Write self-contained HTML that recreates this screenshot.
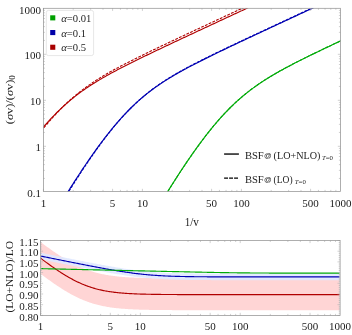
<!DOCTYPE html>
<html><head><meta charset="utf-8"><title>BSF plot</title>
<style>html,body{margin:0;padding:0;background:#fff}svg{display:block;opacity:0.999;will-change:transform}</style></head>
<body>
<svg width="352" height="335" viewBox="0 0 352 335" font-family="'Liberation Serif', 'DejaVu Serif', serif" font-size="11" fill="#1c1c1c">
<rect width="100%" height="100%" fill="#fff"/>
<defs><clipPath id="ct"><rect x="43.4" y="8.3" width="297.0" height="183.1"/></clipPath><clipPath id="cb"><rect x="40.5" y="240.5" width="299.6" height="74.89999999999998"/></clipPath></defs>
<g clip-path="url(#ct)" fill="none" stroke-linejoin="round">
<path d="M159.40,205.19 L160.40,203.54 L161.40,201.90 L162.40,200.26 L163.40,198.63 L164.40,197.00 L165.40,195.38 L166.40,193.76 L167.40,192.15 L168.40,190.55 L169.40,188.95 L170.40,187.35 L171.40,185.76 L172.40,184.18 L173.40,182.60 L174.40,181.03 L175.40,179.47 L176.40,177.91 L177.40,176.36 L178.40,174.82 L179.40,173.28 L180.40,171.76 L181.40,170.23 L182.40,168.72 L183.40,167.21 L184.40,165.71 L185.40,164.22 L186.40,162.73 L187.40,161.26 L188.40,159.79 L189.40,158.33 L190.40,156.88 L191.40,155.44 L192.40,154.01 L193.40,152.58 L194.40,151.17 L195.40,149.76 L196.40,148.36 L197.40,146.98 L198.40,145.60 L199.40,144.23 L200.40,142.88 L201.40,141.53 L202.40,140.19 L203.40,138.87 L204.40,137.55 L205.40,136.25 L206.40,134.95 L207.40,133.67 L208.40,132.40 L209.40,131.14 L210.40,129.89 L211.40,128.65 L212.40,127.43 L213.40,126.22 L214.40,125.02 L215.40,123.83 L216.40,122.65 L217.40,121.49 L218.40,120.33 L219.40,119.19 L220.40,118.07 L221.40,116.95 L222.40,115.85 L223.40,114.76 L224.40,113.69 L225.40,112.62 L226.40,111.57 L227.40,110.53 L228.40,109.51 L229.40,108.50 L230.40,107.50 L231.40,106.51 L232.40,105.53 L233.40,104.57 L234.40,103.62 L235.40,102.69 L236.40,101.76 L237.40,100.85 L238.40,99.95 L239.40,99.06 L240.40,98.19 L241.40,97.32 L242.40,96.47 L243.40,95.63 L244.40,94.80 L245.40,93.98 L246.40,93.18 L247.40,92.38 L248.40,91.59 L249.40,90.82 L250.40,90.05 L251.40,89.30 L252.40,88.55 L253.40,87.82 L254.40,87.09 L255.40,86.37 L256.40,85.66 L257.40,84.96 L258.40,84.27 L259.40,83.59 L260.40,82.92 L261.40,82.25 L262.40,81.59 L263.40,80.94 L264.40,80.29 L265.40,79.65 L266.40,79.02 L267.40,78.40 L268.40,77.78 L269.40,77.16 L270.40,76.56 L271.40,75.95 L272.40,75.36 L273.40,74.77 L274.40,74.18 L275.40,73.60 L276.40,73.03 L277.40,72.45 L278.40,71.89 L279.40,71.32 L280.40,70.77 L281.40,70.21 L282.40,69.66 L283.40,69.11 L284.40,68.57 L285.40,68.03 L286.40,67.49 L287.40,66.96 L288.40,66.42 L289.40,65.90 L290.40,65.37 L291.40,64.85 L292.40,64.33 L293.40,63.81 L294.40,63.29 L295.40,62.78 L296.40,62.27 L297.40,61.76 L298.40,61.25 L299.40,60.74 L300.40,60.24 L301.40,59.74 L302.40,59.24 L303.40,58.74 L304.40,58.24 L305.40,57.75 L306.40,57.25 L307.40,56.76 L308.40,56.27 L309.40,55.78 L310.40,55.29 L311.40,54.80 L312.40,54.31 L313.40,53.82 L314.40,53.34 L315.40,52.85 L316.40,52.37 L317.40,51.89 L318.40,51.40 L319.40,50.92 L320.40,50.44 L321.40,49.96 L322.40,49.48 L323.40,49.01 L324.40,48.53 L325.40,48.05 L326.40,47.57 L327.40,47.10 L328.40,46.62 L329.40,46.15 L330.40,45.67 L331.40,45.20 L332.40,44.72 L333.40,44.25 L334.40,43.78 L335.40,43.31 L336.40,42.83 L337.40,42.36 L338.40,41.89 L339.40,41.42 L340.40,40.95 L341.40,40.48 L342.40,40.01" stroke="#00aa08" stroke-width="1.1" stroke-dasharray="2.8 1.3"/>
<path d="M60.40,205.19 L61.40,203.54 L62.40,201.90 L63.40,200.26 L64.40,198.63 L65.40,197.00 L66.40,195.38 L67.40,193.76 L68.40,192.15 L69.40,190.55 L70.40,188.95 L71.40,187.35 L72.40,185.76 L73.40,184.18 L74.40,182.60 L75.40,181.03 L76.40,179.47 L77.40,177.91 L78.40,176.36 L79.40,174.82 L80.40,173.28 L81.40,171.76 L82.40,170.23 L83.40,168.72 L84.40,167.21 L85.40,165.71 L86.40,164.22 L87.40,162.73 L88.40,161.26 L89.40,159.79 L90.40,158.33 L91.40,156.88 L92.40,155.44 L93.40,154.01 L94.40,152.58 L95.40,151.17 L96.40,149.76 L97.40,148.36 L98.40,146.98 L99.40,145.60 L100.40,144.23 L101.40,142.88 L102.40,141.53 L103.40,140.19 L104.40,138.87 L105.40,137.55 L106.40,136.25 L107.40,134.95 L108.40,133.67 L109.40,132.40 L110.40,131.14 L111.40,129.89 L112.40,128.65 L113.40,127.43 L114.40,126.22 L115.40,125.02 L116.40,123.83 L117.40,122.65 L118.40,121.49 L119.40,120.33 L120.40,119.19 L121.40,118.07 L122.40,116.95 L123.40,115.85 L124.40,114.76 L125.40,113.69 L126.40,112.62 L127.40,111.57 L128.40,110.53 L129.40,109.51 L130.40,108.50 L131.40,107.50 L132.40,106.51 L133.40,105.53 L134.40,104.57 L135.40,103.62 L136.40,102.69 L137.40,101.76 L138.40,100.85 L139.40,99.95 L140.40,99.06 L141.40,98.19 L142.40,97.32 L143.40,96.47 L144.40,95.63 L145.40,94.80 L146.40,93.98 L147.40,93.18 L148.40,92.38 L149.40,91.59 L150.40,90.82 L151.40,90.05 L152.40,89.30 L153.40,88.55 L154.40,87.82 L155.40,87.09 L156.40,86.37 L157.40,85.66 L158.40,84.96 L159.40,84.27 L160.40,83.59 L161.40,82.92 L162.40,82.25 L163.40,81.59 L164.40,80.94 L165.40,80.29 L166.40,79.65 L167.40,79.02 L168.40,78.40 L169.40,77.78 L170.40,77.16 L171.40,76.56 L172.40,75.95 L173.40,75.36 L174.40,74.77 L175.40,74.18 L176.40,73.60 L177.40,73.03 L178.40,72.45 L179.40,71.89 L180.40,71.32 L181.40,70.77 L182.40,70.21 L183.40,69.66 L184.40,69.11 L185.40,68.57 L186.40,68.03 L187.40,67.49 L188.40,66.96 L189.40,66.42 L190.40,65.90 L191.40,65.37 L192.40,64.85 L193.40,64.33 L194.40,63.81 L195.40,63.29 L196.40,62.78 L197.40,62.27 L198.40,61.76 L199.40,61.25 L200.40,60.74 L201.40,60.24 L202.40,59.74 L203.40,59.24 L204.40,58.74 L205.40,58.24 L206.40,57.75 L207.40,57.25 L208.40,56.76 L209.40,56.27 L210.40,55.78 L211.40,55.29 L212.40,54.80 L213.40,54.31 L214.40,53.82 L215.40,53.34 L216.40,52.85 L217.40,52.37 L218.40,51.89 L219.40,51.40 L220.40,50.92 L221.40,50.44 L222.40,49.96 L223.40,49.48 L224.40,49.01 L225.40,48.53 L226.40,48.05 L227.40,47.57 L228.40,47.10 L229.40,46.62 L230.40,46.15 L231.40,45.67 L232.40,45.20 L233.40,44.72 L234.40,44.25 L235.40,43.78 L236.40,43.31 L237.40,42.83 L238.40,42.36 L239.40,41.89 L240.40,41.42 L241.40,40.95 L242.40,40.48 L243.40,40.01 L244.40,39.54 L245.40,39.07 L246.40,38.60 L247.40,38.13 L248.40,37.66 L249.40,37.19 L250.40,36.72 L251.40,36.25 L252.40,35.78 L253.40,35.32 L254.40,34.85 L255.40,34.38 L256.40,33.91 L257.40,33.44 L258.40,32.98 L259.40,32.51 L260.40,32.04 L261.40,31.57 L262.40,31.11 L263.40,30.64 L264.40,30.17 L265.40,29.71 L266.40,29.24 L267.40,28.77 L268.40,28.31 L269.40,27.84 L270.40,27.37 L271.40,26.91 L272.40,26.44 L273.40,25.98 L274.40,25.51 L275.40,25.04 L276.40,24.58 L277.40,24.11 L278.40,23.65 L279.40,23.18 L280.40,22.72 L281.40,22.25 L282.40,21.78 L283.40,21.32 L284.40,20.85 L285.40,20.39 L286.40,19.92 L287.40,19.46 L288.40,18.99 L289.40,18.53 L290.40,18.06 L291.40,17.60 L292.40,17.13 L293.40,16.67 L294.40,16.20 L295.40,15.73 L296.40,15.27 L297.40,14.80 L298.40,14.34 L299.40,13.87 L300.40,13.41 L301.40,12.94 L302.40,12.48 L303.40,12.01 L304.40,11.55 L305.40,11.08 L306.40,10.62 L307.40,10.15 L308.40,9.69 L309.40,9.22 L310.40,8.76 L311.40,8.29 L312.40,7.83 L313.40,7.37 L314.40,6.90 L315.40,6.44 L316.40,5.97 L317.40,5.51 L318.40,5.04 L319.40,4.58 L320.40,4.11 L321.40,3.65 L322.40,3.18 L323.40,2.72 L324.40,2.25 L325.40,1.79 L326.40,1.32 L327.40,0.86 L328.40,0.39 L329.40,-0.07 L330.40,-0.54 L331.40,-1.00 L332.40,-1.47 L333.40,-1.93 L334.40,-2.40 L335.40,-2.86 L336.40,-3.32 L337.40,-3.79 L338.40,-4.25 L339.40,-4.72 L340.40,-5.18 L341.40,-5.65 L342.40,-6.11" stroke="#0000b2" stroke-width="1.1" stroke-dasharray="2.8 1.3"/>
<path d="M41.40,130.89 L42.40,129.65 L43.40,128.41 L44.40,127.19 L45.40,125.98 L46.40,124.78 L47.40,123.59 L48.40,122.42 L49.40,121.26 L50.40,120.11 L51.40,118.97 L52.40,117.85 L53.40,116.73 L54.40,115.63 L55.40,114.55 L56.40,113.47 L57.40,112.41 L58.40,111.36 L59.40,110.33 L60.40,109.31 L61.40,108.30 L62.40,107.30 L63.40,106.31 L64.40,105.34 L65.40,104.38 L66.40,103.44 L67.40,102.50 L68.40,101.58 L69.40,100.67 L70.40,99.77 L71.40,98.89 L72.40,98.02 L73.40,97.15 L74.40,96.30 L75.40,95.47 L76.40,94.64 L77.40,93.82 L78.40,93.02 L79.40,92.22 L80.40,91.44 L81.40,90.67 L82.40,89.90 L83.40,89.15 L84.40,88.41 L85.40,87.67 L86.40,86.95 L87.40,86.23 L88.40,85.53 L89.40,84.83 L90.40,84.14 L91.40,83.46 L92.40,82.78 L93.40,82.12 L94.40,81.46 L95.40,80.81 L96.40,80.16 L97.40,79.53 L98.40,78.90 L99.40,78.27 L100.40,77.65 L101.40,77.04 L102.40,76.44 L103.40,75.84 L104.40,75.24 L105.40,74.65 L106.40,74.07 L107.40,73.49 L108.40,72.91 L109.40,72.34 L110.40,71.78 L111.40,71.21 L112.40,70.66 L113.40,70.10 L114.40,69.55 L115.40,69.00 L116.40,68.46 L117.40,67.92 L118.40,67.38 L119.40,66.85 L120.40,66.32 L121.40,65.79 L122.40,65.27 L123.40,64.74 L124.40,64.22 L125.40,63.71 L126.40,63.19 L127.40,62.68 L128.40,62.17 L129.40,61.66 L130.40,61.15 L131.40,60.64 L132.40,60.14 L133.40,59.64 L134.40,59.14 L135.40,58.64 L136.40,58.14 L137.40,57.65 L138.40,57.15 L139.40,56.66 L140.40,56.17 L141.40,55.68 L142.40,55.19 L143.40,54.70 L144.40,54.21 L145.40,53.73 L146.40,53.24 L147.40,52.76 L148.40,52.27 L149.40,51.79 L150.40,51.31 L151.40,50.83 L152.40,50.35 L153.40,49.87 L154.40,49.39 L155.40,48.91 L156.40,48.43 L157.40,47.96 L158.40,47.48 L159.40,47.00 L160.40,46.53 L161.40,46.05 L162.40,45.58 L163.40,45.10 L164.40,44.63 L165.40,44.16 L166.40,43.68 L167.40,43.21 L168.40,42.74 L169.40,42.27 L170.40,41.80 L171.40,41.33 L172.40,40.85 L173.40,40.38 L174.40,39.91 L175.40,39.44 L176.40,38.97 L177.40,38.50 L178.40,38.03 L179.40,37.57 L180.40,37.10 L181.40,36.63 L182.40,36.16 L183.40,35.69 L184.40,35.22 L185.40,34.75 L186.40,34.29 L187.40,33.82 L188.40,33.35 L189.40,32.88 L190.40,32.42 L191.40,31.95 L192.40,31.48 L193.40,31.02 L194.40,30.55 L195.40,30.08 L196.40,29.61 L197.40,29.15 L198.40,28.68 L199.40,28.22 L200.40,27.75 L201.40,27.28 L202.40,26.82 L203.40,26.35 L204.40,25.88 L205.40,25.42 L206.40,24.95 L207.40,24.49 L208.40,24.02 L209.40,23.55 L210.40,23.09 L211.40,22.62 L212.40,22.16 L213.40,21.69 L214.40,21.23 L215.40,20.76 L216.40,20.30 L217.40,19.83 L218.40,19.36 L219.40,18.90 L220.40,18.43 L221.40,17.97 L222.40,17.50 L223.40,17.04 L224.40,16.57 L225.40,16.11 L226.40,15.64 L227.40,15.18 L228.40,14.71 L229.40,14.25 L230.40,13.78 L231.40,13.32 L232.40,12.85 L233.40,12.39 L234.40,11.92 L235.40,11.46 L236.40,10.99 L237.40,10.53 L238.40,10.06 L239.40,9.60 L240.40,9.13 L241.40,8.67 L242.40,8.20 L243.40,7.74 L244.40,7.27 L245.40,6.81 L246.40,6.34 L247.40,5.88 L248.40,5.41 L249.40,4.95 L250.40,4.48 L251.40,4.02 L252.40,3.55 L253.40,3.09 L254.40,2.62 L255.40,2.16 L256.40,1.70 L257.40,1.23 L258.40,0.77 L259.40,0.30 L260.40,-0.16 L261.40,-0.63 L262.40,-1.09 L263.40,-1.56 L264.40,-2.02 L265.40,-2.49 L266.40,-2.95 L267.40,-3.42 L268.40,-3.88 L269.40,-4.35 L270.40,-4.81 L271.40,-5.28 L272.40,-5.74 L273.40,-6.21 L274.40,-6.67" stroke="#b00000" stroke-width="1.1" stroke-dasharray="2.8 1.3"/>
<path d="M159.40,205.06 L160.40,203.41 L161.40,201.77 L162.40,200.14 L163.40,198.51 L164.40,196.88 L165.40,195.26 L166.40,193.65 L167.40,192.04 L168.40,190.44 L169.40,188.84 L170.40,187.25 L171.40,185.66 L172.40,184.08 L173.40,182.51 L174.40,180.94 L175.40,179.38 L176.40,177.82 L177.40,176.27 L178.40,174.73 L179.40,173.20 L180.40,171.67 L181.40,170.15 L182.40,168.64 L183.40,167.13 L184.40,165.63 L185.40,164.15 L186.40,162.66 L187.40,161.19 L188.40,159.72 L189.40,158.27 L190.40,156.82 L191.40,155.38 L192.40,153.95 L193.40,152.52 L194.40,151.11 L195.40,149.71 L196.40,148.31 L197.40,146.93 L198.40,145.55 L199.40,144.19 L200.40,142.83 L201.40,141.49 L202.40,140.15 L203.40,138.83 L204.40,137.52 L205.40,136.21 L206.40,134.92 L207.40,133.64 L208.40,132.37 L209.40,131.11 L210.40,129.87 L211.40,128.63 L212.40,127.41 L213.40,126.20 L214.40,125.00 L215.40,123.81 L216.40,122.64 L217.40,121.47 L218.40,120.32 L219.40,119.19 L220.40,118.06 L221.40,116.95 L222.40,115.85 L223.40,114.76 L224.40,113.69 L225.40,112.62 L226.40,111.57 L227.40,110.54 L228.40,109.51 L229.40,108.50 L230.40,107.50 L231.40,106.52 L232.40,105.55 L233.40,104.59 L234.40,103.64 L235.40,102.70 L236.40,101.78 L237.40,100.87 L238.40,99.97 L239.40,99.08 L240.40,98.21 L241.40,97.35 L242.40,96.50 L243.40,95.66 L244.40,94.83 L245.40,94.01 L246.40,93.20 L247.40,92.41 L248.40,91.62 L249.40,90.85 L250.40,90.08 L251.40,89.33 L252.40,88.59 L253.40,87.85 L254.40,87.12 L255.40,86.41 L256.40,85.70 L257.40,85.00 L258.40,84.31 L259.40,83.63 L260.40,82.95 L261.40,82.29 L262.40,81.63 L263.40,80.98 L264.40,80.33 L265.40,79.69 L266.40,79.06 L267.40,78.44 L268.40,77.82 L269.40,77.20 L270.40,76.60 L271.40,76.00 L272.40,75.40 L273.40,74.81 L274.40,74.23 L275.40,73.65 L276.40,73.07 L277.40,72.50 L278.40,71.93 L279.40,71.37 L280.40,70.81 L281.40,70.26 L282.40,69.70 L283.40,69.16 L284.40,68.61 L285.40,68.07 L286.40,67.54 L287.40,67.00 L288.40,66.47 L289.40,65.94 L290.40,65.42 L291.40,64.89 L292.40,64.37 L293.40,63.85 L294.40,63.34 L295.40,62.82 L296.40,62.31 L297.40,61.80 L298.40,61.30 L299.40,60.79 L300.40,60.29 L301.40,59.78 L302.40,59.28 L303.40,58.79 L304.40,58.29 L305.40,57.79 L306.40,57.30 L307.40,56.80 L308.40,56.31 L309.40,55.82 L310.40,55.33 L311.40,54.84 L312.40,54.36 L313.40,53.87 L314.40,53.38 L315.40,52.90 L316.40,52.42 L317.40,51.93 L318.40,51.45 L319.40,50.97 L320.40,50.49 L321.40,50.01 L322.40,49.53 L323.40,49.05 L324.40,48.57 L325.40,48.10 L326.40,47.62 L327.40,47.14 L328.40,46.67 L329.40,46.19 L330.40,45.72 L331.40,45.25 L332.40,44.77 L333.40,44.30 L334.40,43.82 L335.40,43.35 L336.40,42.88 L337.40,42.41 L338.40,41.94 L339.40,41.47 L340.40,40.99 L341.40,40.52 L342.40,40.05" stroke="#00aa08" stroke-width="1.15"/>
<path d="M59.40,205.63 L60.40,204.00 L61.40,202.37 L62.40,200.74 L63.40,199.12 L64.40,197.51 L65.40,195.90 L66.40,194.30 L67.40,192.70 L68.40,191.10 L69.40,189.52 L70.40,187.93 L71.40,186.36 L72.40,184.79 L73.40,183.22 L74.40,181.67 L75.40,180.11 L76.40,178.57 L77.40,177.03 L78.40,175.50 L79.40,173.97 L80.40,172.45 L81.40,170.94 L82.40,169.44 L83.40,167.94 L84.40,166.45 L85.40,164.97 L86.40,163.49 L87.40,162.03 L88.40,160.57 L89.40,159.12 L90.40,157.68 L91.40,156.24 L92.40,154.82 L93.40,153.40 L94.40,152.00 L95.40,150.60 L96.40,149.21 L97.40,147.83 L98.40,146.46 L99.40,145.10 L100.40,143.75 L101.40,142.41 L102.40,141.08 L103.40,139.76 L104.40,138.45 L105.40,137.16 L106.40,135.87 L107.40,134.59 L108.40,133.33 L109.40,132.07 L110.40,130.83 L111.40,129.60 L112.40,128.38 L113.40,127.17 L114.40,125.97 L115.40,124.78 L116.40,123.61 L117.40,122.45 L118.40,121.30 L119.40,120.17 L120.40,119.04 L121.40,117.93 L122.40,116.83 L123.40,115.74 L124.40,114.67 L125.40,113.61 L126.40,112.56 L127.40,111.52 L128.40,110.50 L129.40,109.48 L130.40,108.48 L131.40,107.50 L132.40,106.52 L133.40,105.56 L134.40,104.61 L135.40,103.68 L136.40,102.75 L137.40,101.84 L138.40,100.94 L139.40,100.05 L140.40,99.17 L141.40,98.31 L142.40,97.46 L143.40,96.61 L144.40,95.78 L145.40,94.96 L146.40,94.16 L147.40,93.36 L148.40,92.57 L149.40,91.79 L150.40,91.03 L151.40,90.27 L152.40,89.52 L153.40,88.78 L154.40,88.06 L155.40,87.34 L156.40,86.63 L157.40,85.93 L158.40,85.23 L159.40,84.55 L160.40,83.87 L161.40,83.20 L162.40,82.54 L163.40,81.88 L164.40,81.24 L165.40,80.60 L166.40,79.96 L167.40,79.34 L168.40,78.72 L169.40,78.10 L170.40,77.49 L171.40,76.89 L172.40,76.29 L173.40,75.70 L174.40,75.11 L175.40,74.53 L176.40,73.95 L177.40,73.38 L178.40,72.81 L179.40,72.24 L180.40,71.68 L181.40,71.13 L182.40,70.58 L183.40,70.03 L184.40,69.48 L185.40,68.94 L186.40,68.40 L187.40,67.86 L188.40,67.33 L189.40,66.80 L190.40,66.28 L191.40,65.75 L192.40,65.23 L193.40,64.71 L194.40,64.19 L195.40,63.68 L196.40,63.17 L197.40,62.66 L198.40,62.15 L199.40,61.64 L200.40,61.14 L201.40,60.63 L202.40,60.13 L203.40,59.63 L204.40,59.13 L205.40,58.64 L206.40,58.14 L207.40,57.65 L208.40,57.15 L209.40,56.66 L210.40,56.17 L211.40,55.68 L212.40,55.20 L213.40,54.71 L214.40,54.22 L215.40,53.74 L216.40,53.25 L217.40,52.77 L218.40,52.29 L219.40,51.81 L220.40,51.32 L221.40,50.84 L222.40,50.37 L223.40,49.89 L224.40,49.41 L225.40,48.93 L226.40,48.45 L227.40,47.98 L228.40,47.50 L229.40,47.03 L230.40,46.55 L231.40,46.08 L232.40,45.60 L233.40,45.13 L234.40,44.66 L235.40,44.18 L236.40,43.71 L237.40,43.24 L238.40,42.77 L239.40,42.29 L240.40,41.82 L241.40,41.35 L242.40,40.88 L243.40,40.41 L244.40,39.94 L245.40,39.47 L246.40,39.00 L247.40,38.53 L248.40,38.06 L249.40,37.60 L250.40,37.13 L251.40,36.66 L252.40,36.19 L253.40,35.72 L254.40,35.25 L255.40,34.79 L256.40,34.32 L257.40,33.85 L258.40,33.38 L259.40,32.92 L260.40,32.45 L261.40,31.98 L262.40,31.51 L263.40,31.05 L264.40,30.58 L265.40,30.11 L266.40,29.65 L267.40,29.18 L268.40,28.71 L269.40,28.25 L270.40,27.78 L271.40,27.32 L272.40,26.85 L273.40,26.38 L274.40,25.92 L275.40,25.45 L276.40,24.99 L277.40,24.52 L278.40,24.05 L279.40,23.59 L280.40,23.12 L281.40,22.66 L282.40,22.19 L283.40,21.73 L284.40,21.26 L285.40,20.79 L286.40,20.33 L287.40,19.86 L288.40,19.40 L289.40,18.93 L290.40,18.47 L291.40,18.00 L292.40,17.54 L293.40,17.07 L294.40,16.61 L295.40,16.14 L296.40,15.68 L297.40,15.21 L298.40,14.75 L299.40,14.28 L300.40,13.82 L301.40,13.35 L302.40,12.89 L303.40,12.42 L304.40,11.96 L305.40,11.49 L306.40,11.03 L307.40,10.56 L308.40,10.10 L309.40,9.63 L310.40,9.17 L311.40,8.70 L312.40,8.24 L313.40,7.77 L314.40,7.31 L315.40,6.84 L316.40,6.38 L317.40,5.91 L318.40,5.45 L319.40,4.98 L320.40,4.52 L321.40,4.05 L322.40,3.59 L323.40,3.12 L324.40,2.66 L325.40,2.19 L326.40,1.73 L327.40,1.26 L328.40,0.80 L329.40,0.34 L330.40,-0.13 L331.40,-0.59 L332.40,-1.06 L333.40,-1.52 L334.40,-1.99 L335.40,-2.45 L336.40,-2.92 L337.40,-3.38 L338.40,-3.85 L339.40,-4.31 L340.40,-4.78 L341.40,-5.24 L342.40,-5.71" stroke="#0000b2" stroke-width="1.15"/>
<path d="M41.40,129.59 L42.40,128.34 L43.40,127.11 L44.40,125.95 L45.40,124.81 L46.40,123.67 L47.40,122.55 L48.40,121.44 L49.40,120.35 L50.40,119.26 L51.40,118.19 L52.40,117.13 L53.40,116.09 L54.40,115.05 L55.40,114.03 L56.40,113.02 L57.40,112.02 L58.40,111.04 L59.40,110.06 L60.40,109.10 L61.40,108.15 L62.40,107.22 L63.40,106.29 L64.40,105.38 L65.40,104.48 L66.40,103.60 L67.40,102.72 L68.40,101.86 L69.40,101.00 L70.40,100.16 L71.40,99.33 L72.40,98.51 L73.40,97.71 L74.40,96.91 L75.40,96.12 L76.40,95.35 L77.40,94.58 L78.40,93.83 L79.40,93.08 L80.40,92.34 L81.40,91.62 L82.40,90.90 L83.40,90.19 L84.40,89.49 L85.40,88.80 L86.40,88.11 L87.40,87.44 L88.40,86.77 L89.40,86.11 L90.40,85.46 L91.40,84.81 L92.40,84.17 L93.40,83.54 L94.40,82.91 L95.40,82.29 L96.40,81.68 L97.40,81.07 L98.40,80.47 L99.40,79.87 L100.40,79.28 L101.40,78.69 L102.40,78.11 L103.40,77.54 L104.40,76.96 L105.40,76.39 L106.40,75.83 L107.40,75.27 L108.40,74.71 L109.40,74.16 L110.40,73.61 L111.40,73.07 L112.40,72.53 L113.40,71.99 L114.40,71.45 L115.40,70.92 L116.40,70.39 L117.40,69.86 L118.40,69.33 L119.40,68.81 L120.40,68.29 L121.40,67.77 L122.40,67.26 L123.40,66.75 L124.40,66.23 L125.40,65.72 L126.40,65.22 L127.40,64.71 L128.40,64.21 L129.40,63.71 L130.40,63.20 L131.40,62.71 L132.40,62.21 L133.40,61.71 L134.40,61.22 L135.40,60.72 L136.40,60.23 L137.40,59.74 L138.40,59.25 L139.40,58.76 L140.40,58.27 L141.40,57.79 L142.40,57.30 L143.40,56.81 L144.40,56.33 L145.40,55.85 L146.40,55.36 L147.40,54.88 L148.40,54.40 L149.40,53.92 L150.40,53.44 L151.40,52.96 L152.40,52.48 L153.40,52.01 L154.40,51.53 L155.40,51.05 L156.40,50.58 L157.40,50.10 L158.40,49.63 L159.40,49.15 L160.40,48.68 L161.40,48.20 L162.40,47.73 L163.40,47.26 L164.40,46.78 L165.40,46.31 L166.40,45.84 L167.40,45.37 L168.40,44.90 L169.40,44.42 L170.40,43.95 L171.40,43.48 L172.40,43.01 L173.40,42.54 L174.40,42.07 L175.40,41.60 L176.40,41.13 L177.40,40.67 L178.40,40.20 L179.40,39.73 L180.40,39.26 L181.40,38.79 L182.40,38.32 L183.40,37.85 L184.40,37.39 L185.40,36.92 L186.40,36.45 L187.40,35.98 L188.40,35.52 L189.40,35.05 L190.40,34.58 L191.40,34.12 L192.40,33.65 L193.40,33.18 L194.40,32.71 L195.40,32.25 L196.40,31.78 L197.40,31.32 L198.40,30.85 L199.40,30.38 L200.40,29.92 L201.40,29.45 L202.40,28.98 L203.40,28.52 L204.40,28.05 L205.40,27.59 L206.40,27.12 L207.40,26.65 L208.40,26.19 L209.40,25.72 L210.40,25.26 L211.40,24.79 L212.40,24.33 L213.40,23.86 L214.40,23.40 L215.40,22.93 L216.40,22.46 L217.40,22.00 L218.40,21.53 L219.40,21.07 L220.40,20.60 L221.40,20.14 L222.40,19.67 L223.40,19.21 L224.40,18.74 L225.40,18.28 L226.40,17.81 L227.40,17.35 L228.40,16.88 L229.40,16.42 L230.40,15.95 L231.40,15.49 L232.40,15.02 L233.40,14.56 L234.40,14.09 L235.40,13.63 L236.40,13.16 L237.40,12.70 L238.40,12.23 L239.40,11.77 L240.40,11.30 L241.40,10.84 L242.40,10.37 L243.40,9.91 L244.40,9.44 L245.40,8.98 L246.40,8.51 L247.40,8.05 L248.40,7.58 L249.40,7.12 L250.40,6.65 L251.40,6.19 L252.40,5.72 L253.40,5.26 L254.40,4.79 L255.40,4.33 L256.40,3.86 L257.40,3.40 L258.40,2.94 L259.40,2.47 L260.40,2.01 L261.40,1.54 L262.40,1.08 L263.40,0.61 L264.40,0.15 L265.40,-0.32 L266.40,-0.78 L267.40,-1.25 L268.40,-1.71 L269.40,-2.18 L270.40,-2.64 L271.40,-3.11 L272.40,-3.57 L273.40,-4.04 L274.40,-4.50 L275.40,-4.96 L276.40,-5.43 L277.40,-5.89 L278.40,-6.36" stroke="#b00000" stroke-width="1.15"/>
</g>
<path d="M43.40,191.4 v-2.6 M43.40,8.3 v2.6 M73.20,191.4 v-1.5 M73.20,8.3 v1.5 M90.64,191.4 v-1.5 M90.64,8.3 v1.5 M103.00,191.4 v-1.5 M103.00,8.3 v1.5 M112.60,191.4 v-2.6 M112.60,8.3 v2.6 M120.44,191.4 v-1.5 M120.44,8.3 v1.5 M127.06,191.4 v-1.5 M127.06,8.3 v1.5 M132.81,191.4 v-1.5 M132.81,8.3 v1.5 M137.87,191.4 v-1.5 M137.87,8.3 v1.5 M142.40,191.4 v-2.6 M142.40,8.3 v2.6 M172.20,191.4 v-1.5 M172.20,8.3 v1.5 M189.64,191.4 v-1.5 M189.64,8.3 v1.5 M202.00,191.4 v-1.5 M202.00,8.3 v1.5 M211.60,191.4 v-2.6 M211.60,8.3 v2.6 M219.44,191.4 v-1.5 M219.44,8.3 v1.5 M226.06,191.4 v-1.5 M226.06,8.3 v1.5 M231.81,191.4 v-1.5 M231.81,8.3 v1.5 M236.87,191.4 v-1.5 M236.87,8.3 v1.5 M241.40,191.4 v-2.6 M241.40,8.3 v2.6 M271.20,191.4 v-1.5 M271.20,8.3 v1.5 M288.64,191.4 v-1.5 M288.64,8.3 v1.5 M301.00,191.4 v-1.5 M301.00,8.3 v1.5 M310.60,191.4 v-2.6 M310.60,8.3 v2.6 M318.44,191.4 v-1.5 M318.44,8.3 v1.5 M325.06,191.4 v-1.5 M325.06,8.3 v1.5 M330.81,191.4 v-1.5 M330.81,8.3 v1.5 M335.87,191.4 v-1.5 M335.87,8.3 v1.5 M43.4,178.45 h1.5 M340.4,178.45 h-1.5 M43.4,170.35 h1.5 M340.4,170.35 h-1.5 M43.4,164.61 h1.5 M340.4,164.61 h-1.5 M43.4,160.15 h1.5 M340.4,160.15 h-1.5 M43.4,156.51 h1.5 M340.4,156.51 h-1.5 M43.4,153.43 h1.5 M340.4,153.43 h-1.5 M43.4,150.76 h1.5 M340.4,150.76 h-1.5 M43.4,148.40 h1.5 M340.4,148.40 h-1.5 M43.4,146.30 h2.6 M340.4,146.30 h-2.6 M43.4,132.45 h1.5 M340.4,132.45 h-1.5 M43.4,124.35 h1.5 M340.4,124.35 h-1.5 M43.4,118.61 h1.5 M340.4,118.61 h-1.5 M43.4,114.15 h1.5 M340.4,114.15 h-1.5 M43.4,110.51 h1.5 M340.4,110.51 h-1.5 M43.4,107.43 h1.5 M340.4,107.43 h-1.5 M43.4,104.76 h1.5 M340.4,104.76 h-1.5 M43.4,102.40 h1.5 M340.4,102.40 h-1.5 M43.4,100.30 h2.6 M340.4,100.30 h-2.6 M43.4,86.45 h1.5 M340.4,86.45 h-1.5 M43.4,78.35 h1.5 M340.4,78.35 h-1.5 M43.4,72.61 h1.5 M340.4,72.61 h-1.5 M43.4,68.15 h1.5 M340.4,68.15 h-1.5 M43.4,64.51 h1.5 M340.4,64.51 h-1.5 M43.4,61.43 h1.5 M340.4,61.43 h-1.5 M43.4,58.76 h1.5 M340.4,58.76 h-1.5 M43.4,56.40 h1.5 M340.4,56.40 h-1.5 M43.4,54.30 h2.6 M340.4,54.30 h-2.6 M43.4,40.45 h1.5 M340.4,40.45 h-1.5 M43.4,32.35 h1.5 M340.4,32.35 h-1.5 M43.4,26.61 h1.5 M340.4,26.61 h-1.5 M43.4,22.15 h1.5 M340.4,22.15 h-1.5 M43.4,18.51 h1.5 M340.4,18.51 h-1.5 M43.4,15.43 h1.5 M340.4,15.43 h-1.5 M43.4,12.76 h1.5 M340.4,12.76 h-1.5 M43.4,10.40 h1.5 M340.4,10.40 h-1.5" stroke="#b0b0b0" stroke-width="0.6" fill="none"/>
<rect x="43.4" y="8.3" width="297.0" height="183.1" fill="none" stroke="#949494" stroke-width="0.75"/>
<text x="41" y="13.70" text-anchor="end">1000</text>
<text x="41" y="59.40" text-anchor="end">100</text>
<text x="41" y="105.20" text-anchor="end">10</text>
<text x="41" y="150.70" text-anchor="end">1</text>
<text x="41" y="196.90" text-anchor="end">0.1</text>
<text x="43.40" y="206.5" text-anchor="middle">1</text>
<text x="112.60" y="206.5" text-anchor="middle">5</text>
<text x="142.40" y="206.5" text-anchor="middle">10</text>
<text x="211.60" y="206.5" text-anchor="middle">50</text>
<text x="241.40" y="206.5" text-anchor="middle">100</text>
<text x="310.60" y="206.5" text-anchor="middle">500</text>
<text x="340.40" y="206.5" text-anchor="middle">1000</text>
<text x="184.7" y="226.0" font-size="11.5" textLength="14.2" lengthAdjust="spacingAndGlyphs">1/v</text>
<text transform="translate(12.9,124.2) rotate(-90)" textLength="49" lengthAdjust="spacingAndGlyphs">(<tspan font-style="italic">σ</tspan>v)/(<tspan font-style="italic">σ</tspan>v)<tspan font-size="8" dy="1.6">0</tspan></text>
<rect x="46.3" y="10.4" width="47.3" height="45.2" rx="2.2" fill="#fff" stroke="#e0e0e0" stroke-width="0.8"/>
<rect x="50.2" y="15.30" width="5.1" height="5.1" fill="#00a000"/>
<text x="61.3" y="21.90" font-size="10.6"><tspan font-style="italic">α</tspan>=0.01</text>
<rect x="50.2" y="30.00" width="5.1" height="5.1" fill="#0000a8"/>
<text x="61.3" y="36.60" font-size="10.6"><tspan font-style="italic">α</tspan>=0.1</text>
<rect x="50.2" y="44.70" width="5.1" height="5.1" fill="#a80000"/>
<text x="61.3" y="51.30" font-size="10.6"><tspan font-style="italic">α</tspan>=0.5</text>
<path d="M224.1,154.05 H238.9" stroke="#000" stroke-width="1.35"/>
<path d="M224.1,178.1 H238.6" stroke="#000" stroke-width="1.3" stroke-dasharray="3.9 1.1"/>
<text x="244.9" y="158.6" font-size="10.6">BSF</text>
<text x="264.1" y="158.2" font-size="7.6" font-family="'Liberation Sans', 'DejaVu Sans', sans-serif">@</text>
<text x="273.6" y="158.6" font-size="10.2" textLength="46.8" lengthAdjust="spacingAndGlyphs">(LO+NLO)</text>
<text x="322.0" y="159.9" font-size="6.4" textLength="11.0" lengthAdjust="spacingAndGlyphs"><tspan font-style="italic">T</tspan>=0</text>
<text x="244.9" y="182.7" font-size="10.6">BSF</text>
<text x="264.1" y="182.29999999999998" font-size="7.6" font-family="'Liberation Sans', 'DejaVu Sans', sans-serif">@</text>
<text x="273.6" y="182.7" font-size="10.2" textLength="19.0" lengthAdjust="spacingAndGlyphs">(LO)</text>
<text x="294.8" y="184.0" font-size="6.4" textLength="11.0" lengthAdjust="spacingAndGlyphs"><tspan font-style="italic">T</tspan>=0</text>
<g clip-path="url(#cb)" fill="none">
<path d="M40.50,241.95 L41.50,242.70 L42.50,243.45 L43.50,244.19 L44.50,244.93 L45.50,245.67 L46.50,246.40 L47.50,247.13 L48.50,247.85 L49.50,248.57 L50.50,249.28 L51.50,249.99 L52.50,250.69 L53.50,251.39 L54.50,252.08 L55.50,252.76 L56.50,253.44 L57.50,254.11 L58.50,254.77 L59.50,255.43 L60.50,256.07 L61.50,256.71 L62.50,257.35 L63.50,257.97 L64.50,258.59 L65.50,259.19 L66.50,259.79 L67.50,260.38 L68.50,260.96 L69.50,261.53 L70.50,262.09 L71.50,262.64 L72.50,263.17 L73.50,263.70 L74.50,264.22 L75.50,264.73 L76.50,265.22 L77.50,265.71 L78.50,266.18 L79.50,266.64 L80.50,267.09 L81.50,267.53 L82.50,267.96 L83.50,268.38 L84.50,268.78 L85.50,269.17 L86.50,269.55 L87.50,269.92 L88.50,270.28 L89.50,270.63 L90.50,270.96 L91.50,271.29 L92.50,271.60 L93.50,271.90 L94.50,272.19 L95.50,272.48 L96.50,272.75 L97.50,273.01 L98.50,273.26 L99.50,273.50 L100.50,273.73 L101.50,273.95 L102.50,274.17 L103.50,274.37 L104.50,274.57 L105.50,274.75 L106.50,274.93 L107.50,275.10 L108.50,275.27 L109.50,275.43 L110.50,275.58 L111.50,275.72 L112.50,275.85 L113.50,275.98 L114.50,276.11 L115.50,276.23 L116.50,276.34 L117.50,276.45 L118.50,276.55 L119.50,276.65 L120.50,276.74 L121.50,276.83 L122.50,276.91 L123.50,276.99 L124.50,277.06 L125.50,277.13 L126.50,277.20 L127.50,277.27 L128.50,277.33 L129.50,277.39 L130.50,277.44 L131.50,277.49 L132.50,277.54 L133.50,277.59 L134.50,277.64 L135.50,277.68 L136.50,277.72 L137.50,277.76 L138.50,277.79 L139.50,277.83 L140.50,277.86 L141.50,277.89 L142.50,277.92 L143.50,277.94 L144.50,277.97 L145.50,277.99 L146.50,278.02 L147.50,278.04 L148.50,278.06 L149.50,278.08 L150.50,278.10 L151.50,278.12 L152.50,278.13 L153.50,278.15 L154.50,278.16 L155.50,278.18 L156.50,278.19 L157.50,278.20 L158.50,278.22 L159.50,278.23 L160.50,278.24 L161.50,278.25 L162.50,278.26 L163.50,278.27 L164.50,278.28 L165.50,278.28 L166.50,278.29 L167.50,278.30 L168.50,278.31 L169.50,278.31 L170.50,278.32 L171.50,278.32 L172.50,278.33 L173.50,278.33 L174.50,278.34 L175.50,278.34 L176.50,278.35 L177.50,278.35 L178.50,278.36 L179.50,278.36 L180.50,278.36 L181.50,278.37 L182.50,278.37 L183.50,278.37 L184.50,278.38 L185.50,278.38 L186.50,278.38 L187.50,278.38 L188.50,278.38 L189.50,278.39 L190.50,278.39 L191.50,278.39 L192.50,278.39 L193.50,278.39 L194.50,278.40 L195.50,278.40 L196.50,278.40 L197.50,278.40 L198.50,278.40 L199.50,278.40 L200.50,278.40 L201.50,278.40 L202.50,278.41 L203.50,278.41 L204.50,278.41 L205.50,278.41 L206.50,278.41 L207.50,278.41 L208.50,278.41 L209.50,278.41 L210.50,278.41 L211.50,278.41 L212.50,278.41 L213.50,278.41 L214.50,278.41 L215.50,278.41 L216.50,278.41 L217.50,278.42 L218.50,278.42 L219.50,278.42 L220.50,278.42 L221.50,278.42 L222.50,278.42 L223.50,278.42 L224.50,278.42 L225.50,278.42 L226.50,278.42 L227.50,278.42 L228.50,278.42 L229.50,278.42 L230.50,278.42 L231.50,278.42 L232.50,278.42 L233.50,278.42 L234.50,278.42 L235.50,278.42 L236.50,278.42 L237.50,278.42 L238.50,278.42 L239.50,278.42 L240.50,278.42 L241.50,278.42 L242.50,278.42 L243.50,278.42 L244.50,278.42 L245.50,278.42 L246.50,278.42 L247.50,278.42 L248.50,278.42 L249.50,278.42 L250.50,278.42 L251.50,278.42 L252.50,278.42 L253.50,278.42 L254.50,278.42 L255.50,278.42 L256.50,278.42 L257.50,278.42 L258.50,278.42 L259.50,278.42 L260.50,278.42 L261.50,278.42 L262.50,278.42 L263.50,278.42 L264.50,278.42 L265.50,278.42 L266.50,278.42 L267.50,278.42 L268.50,278.42 L269.50,278.42 L270.50,278.42 L271.50,278.42 L272.50,278.42 L273.50,278.42 L274.50,278.42 L275.50,278.42 L276.50,278.42 L277.50,278.42 L278.50,278.42 L279.50,278.42 L280.50,278.42 L281.50,278.42 L282.50,278.42 L283.50,278.42 L284.50,278.42 L285.50,278.42 L286.50,278.42 L287.50,278.42 L288.50,278.42 L289.50,278.42 L290.50,278.42 L291.50,278.42 L292.50,278.42 L293.50,278.42 L294.50,278.42 L295.50,278.42 L296.50,278.42 L297.50,278.42 L298.50,278.42 L299.50,278.42 L300.50,278.42 L301.50,278.42 L302.50,278.42 L303.50,278.42 L304.50,278.42 L305.50,278.42 L306.50,278.42 L307.50,278.42 L308.50,278.42 L309.50,278.42 L310.50,278.42 L311.50,278.42 L312.50,278.42 L313.50,278.42 L314.50,278.42 L315.50,278.42 L316.50,278.42 L317.50,278.42 L318.50,278.42 L319.50,278.42 L320.50,278.42 L321.50,278.42 L322.50,278.42 L323.50,278.42 L324.50,278.42 L325.50,278.42 L326.50,278.42 L327.50,278.42 L328.50,278.42 L329.50,278.42 L330.50,278.42 L331.50,278.42 L332.50,278.42 L333.50,278.42 L334.50,278.42 L335.50,278.42 L336.50,278.42 L337.50,278.42 L338.50,278.42 L339.50,278.42 L339.50,310.22 L338.50,310.22 L337.50,310.22 L336.50,310.22 L335.50,310.22 L334.50,310.22 L333.50,310.22 L332.50,310.22 L331.50,310.22 L330.50,310.22 L329.50,310.22 L328.50,310.22 L327.50,310.22 L326.50,310.22 L325.50,310.22 L324.50,310.22 L323.50,310.22 L322.50,310.22 L321.50,310.22 L320.50,310.22 L319.50,310.22 L318.50,310.22 L317.50,310.22 L316.50,310.22 L315.50,310.22 L314.50,310.22 L313.50,310.22 L312.50,310.22 L311.50,310.22 L310.50,310.22 L309.50,310.22 L308.50,310.22 L307.50,310.22 L306.50,310.22 L305.50,310.22 L304.50,310.22 L303.50,310.22 L302.50,310.22 L301.50,310.22 L300.50,310.22 L299.50,310.22 L298.50,310.22 L297.50,310.22 L296.50,310.22 L295.50,310.22 L294.50,310.22 L293.50,310.22 L292.50,310.22 L291.50,310.22 L290.50,310.22 L289.50,310.22 L288.50,310.22 L287.50,310.22 L286.50,310.22 L285.50,310.22 L284.50,310.22 L283.50,310.22 L282.50,310.22 L281.50,310.22 L280.50,310.22 L279.50,310.22 L278.50,310.22 L277.50,310.22 L276.50,310.22 L275.50,310.22 L274.50,310.22 L273.50,310.22 L272.50,310.22 L271.50,310.22 L270.50,310.22 L269.50,310.22 L268.50,310.22 L267.50,310.22 L266.50,310.22 L265.50,310.22 L264.50,310.22 L263.50,310.22 L262.50,310.22 L261.50,310.22 L260.50,310.22 L259.50,310.22 L258.50,310.22 L257.50,310.22 L256.50,310.22 L255.50,310.22 L254.50,310.22 L253.50,310.22 L252.50,310.22 L251.50,310.22 L250.50,310.22 L249.50,310.22 L248.50,310.22 L247.50,310.22 L246.50,310.22 L245.50,310.22 L244.50,310.22 L243.50,310.22 L242.50,310.22 L241.50,310.22 L240.50,310.22 L239.50,310.22 L238.50,310.22 L237.50,310.22 L236.50,310.22 L235.50,310.22 L234.50,310.22 L233.50,310.22 L232.50,310.22 L231.50,310.22 L230.50,310.22 L229.50,310.22 L228.50,310.22 L227.50,310.22 L226.50,310.22 L225.50,310.22 L224.50,310.22 L223.50,310.22 L222.50,310.22 L221.50,310.22 L220.50,310.22 L219.50,310.22 L218.50,310.22 L217.50,310.22 L216.50,310.21 L215.50,310.21 L214.50,310.21 L213.50,310.21 L212.50,310.21 L211.50,310.21 L210.50,310.21 L209.50,310.21 L208.50,310.21 L207.50,310.21 L206.50,310.21 L205.50,310.21 L204.50,310.21 L203.50,310.21 L202.50,310.21 L201.50,310.20 L200.50,310.20 L199.50,310.20 L198.50,310.20 L197.50,310.20 L196.50,310.20 L195.50,310.20 L194.50,310.20 L193.50,310.19 L192.50,310.19 L191.50,310.19 L190.50,310.19 L189.50,310.19 L188.50,310.18 L187.50,310.18 L186.50,310.18 L185.50,310.18 L184.50,310.18 L183.50,310.17 L182.50,310.17 L181.50,310.17 L180.50,310.16 L179.50,310.16 L178.50,310.16 L177.50,310.15 L176.50,310.15 L175.50,310.14 L174.50,310.14 L173.50,310.13 L172.50,310.13 L171.50,310.12 L170.50,310.12 L169.50,310.11 L168.50,310.11 L167.50,310.10 L166.50,310.09 L165.50,310.08 L164.50,310.08 L163.50,310.07 L162.50,310.06 L161.50,310.05 L160.50,310.04 L159.50,310.03 L158.50,310.02 L157.50,310.00 L156.50,309.99 L155.50,309.98 L154.50,309.96 L153.50,309.95 L152.50,309.93 L151.50,309.92 L150.50,309.90 L149.50,309.88 L148.50,309.86 L147.50,309.84 L146.50,309.82 L145.50,309.79 L144.50,309.77 L143.50,309.74 L142.50,309.72 L141.50,309.69 L140.50,309.66 L139.50,309.63 L138.50,309.59 L137.50,309.56 L136.50,309.52 L135.50,309.48 L134.50,309.44 L133.50,309.39 L132.50,309.34 L131.50,309.29 L130.50,309.24 L129.50,309.19 L128.50,309.13 L127.50,309.07 L126.50,309.00 L125.50,308.93 L124.50,308.86 L123.50,308.79 L122.50,308.71 L121.50,308.63 L120.50,308.54 L119.50,308.45 L118.50,308.35 L117.50,308.25 L116.50,308.14 L115.50,308.03 L114.50,307.91 L113.50,307.78 L112.50,307.65 L111.50,307.52 L110.50,307.38 L109.50,307.23 L108.50,307.07 L107.50,306.90 L106.50,306.73 L105.50,306.55 L104.50,306.37 L103.50,306.17 L102.50,305.97 L101.50,305.75 L100.50,305.53 L99.50,305.30 L98.50,305.06 L97.50,304.81 L96.50,304.55 L95.50,304.28 L94.50,303.99 L93.50,303.70 L92.50,303.40 L91.50,303.09 L90.50,302.76 L89.50,302.43 L88.50,302.08 L87.50,301.72 L86.50,301.35 L85.50,300.97 L84.50,300.58 L83.50,300.18 L82.50,299.76 L81.50,299.33 L80.50,298.89 L79.50,298.44 L78.50,297.98 L77.50,297.51 L76.50,297.02 L75.50,296.53 L74.50,296.02 L73.50,295.50 L72.50,294.97 L71.50,294.44 L70.50,293.89 L69.50,293.33 L68.50,292.76 L67.50,292.18 L66.50,291.59 L65.50,290.99 L64.50,290.39 L63.50,289.77 L62.50,289.15 L61.50,288.51 L60.50,287.87 L59.50,287.23 L58.50,286.57 L57.50,285.91 L56.50,285.24 L55.50,284.56 L54.50,283.88 L53.50,283.19 L52.50,282.49 L51.50,281.79 L50.50,281.08 L49.50,280.37 L48.50,279.65 L47.50,278.93 L46.50,278.20 L45.50,277.47 L44.50,276.73 L43.50,275.99 L42.50,275.25 L41.50,274.50 L40.50,273.75 Z" fill="#ffd5d5" stroke="none"/>
<path d="M40.50,252.72 L41.50,252.92 L42.50,253.12 L43.50,253.33 L44.50,253.53 L45.50,253.73 L46.50,253.93 L47.50,254.13 L48.50,254.33 L49.50,254.53 L50.50,254.74 L51.50,254.94 L52.50,255.14 L53.50,255.34 L54.50,255.54 L55.50,255.74 L56.50,255.94 L57.50,256.14 L58.50,256.34 L59.50,256.54 L60.50,256.75 L61.50,256.95 L62.50,257.15 L63.50,257.35 L64.50,257.55 L65.50,257.75 L66.50,257.95 L67.50,258.14 L68.50,258.34 L69.50,258.54 L70.50,258.74 L71.50,258.94 L72.50,259.14 L73.50,259.34 L74.50,259.54 L75.50,259.73 L76.50,259.93 L77.50,260.13 L78.50,260.33 L79.50,260.52 L80.50,260.72 L81.50,260.92 L82.50,261.11 L83.50,261.31 L84.50,261.50 L85.50,261.70 L86.50,261.89 L87.50,262.09 L88.50,262.28 L89.50,262.47 L90.50,262.67 L91.50,262.86 L92.50,263.05 L93.50,263.24 L94.50,263.43 L95.50,263.62 L96.50,263.81 L97.50,264.00 L98.50,264.18 L99.50,264.37 L100.50,264.56 L101.50,264.74 L102.50,264.92 L103.50,265.11 L104.50,265.29 L105.50,265.47 L106.50,265.65 L107.50,265.83 L108.50,266.01 L109.50,266.18 L110.50,266.36 L111.50,266.53 L112.50,266.70 L113.50,266.87 L114.50,267.04 L115.50,267.21 L116.50,267.38 L117.50,267.54 L118.50,267.70 L119.50,267.87 L120.50,268.02 L121.50,268.18 L122.50,268.34 L123.50,268.49 L124.50,268.64 L125.50,268.79 L126.50,268.94 L127.50,269.08 L128.50,269.22 L129.50,269.36 L130.50,269.50 L131.50,269.64 L132.50,269.77 L133.50,269.90 L134.50,270.03 L135.50,270.15 L136.50,270.27 L137.50,270.39 L138.50,270.51 L139.50,270.62 L140.50,270.74 L141.50,270.84 L142.50,270.95 L143.50,271.05 L144.50,271.15 L145.50,271.25 L146.50,271.35 L147.50,271.44 L148.50,271.53 L149.50,271.61 L150.50,271.70 L151.50,271.78 L152.50,271.86 L153.50,271.93 L154.50,272.00 L155.50,272.07 L156.50,272.14 L157.50,272.21 L158.50,272.27 L159.50,272.33 L160.50,272.39 L161.50,272.45 L162.50,272.50 L163.50,272.55 L164.50,272.60 L165.50,272.65 L166.50,272.70 L167.50,272.74 L168.50,272.78 L169.50,272.82 L170.50,272.86 L171.50,272.90 L172.50,272.93 L173.50,272.96 L174.50,273.00 L175.50,273.03 L176.50,273.06 L177.50,273.08 L178.50,273.11 L179.50,273.14 L180.50,273.16 L181.50,273.18 L182.50,273.20 L183.50,273.23 L184.50,273.25 L185.50,273.26 L186.50,273.28 L187.50,273.30 L188.50,273.31 L189.50,273.33 L190.50,273.34 L191.50,273.36 L192.50,273.37 L193.50,273.38 L194.50,273.40 L195.50,273.41 L196.50,273.42 L197.50,273.43 L198.50,273.44 L199.50,273.45 L200.50,273.46 L201.50,273.46 L202.50,273.47 L203.50,273.48 L204.50,273.49 L205.50,273.49 L206.50,273.50 L207.50,273.51 L208.50,273.51 L209.50,273.52 L210.50,273.52 L211.50,273.53 L212.50,273.53 L213.50,273.54 L214.50,273.54 L215.50,273.54 L216.50,273.55 L217.50,273.55 L218.50,273.55 L219.50,273.56 L220.50,273.56 L221.50,273.56 L222.50,273.57 L223.50,273.57 L224.50,273.57 L225.50,273.57 L226.50,273.57 L227.50,273.58 L228.50,273.58 L229.50,273.58 L230.50,273.58 L231.50,273.58 L232.50,273.59 L233.50,273.59 L234.50,273.59 L235.50,273.59 L236.50,273.59 L237.50,273.59 L238.50,273.59 L239.50,273.59 L240.50,273.59 L241.50,273.60 L242.50,273.60 L243.50,273.60 L244.50,273.60 L245.50,273.60 L246.50,273.60 L247.50,273.60 L248.50,273.60 L249.50,273.60 L250.50,273.60 L251.50,273.60 L252.50,273.60 L253.50,273.60 L254.50,273.60 L255.50,273.60 L256.50,273.61 L257.50,273.61 L258.50,273.61 L259.50,273.61 L260.50,273.61 L261.50,273.61 L262.50,273.61 L263.50,273.61 L264.50,273.61 L265.50,273.61 L266.50,273.61 L267.50,273.61 L268.50,273.61 L269.50,273.61 L270.50,273.61 L271.50,273.61 L272.50,273.61 L273.50,273.61 L274.50,273.61 L275.50,273.61 L276.50,273.61 L277.50,273.61 L278.50,273.61 L279.50,273.61 L280.50,273.61 L281.50,273.61 L282.50,273.61 L283.50,273.61 L284.50,273.61 L285.50,273.61 L286.50,273.61 L287.50,273.61 L288.50,273.61 L289.50,273.61 L290.50,273.61 L291.50,273.61 L292.50,273.61 L293.50,273.61 L294.50,273.61 L295.50,273.61 L296.50,273.61 L297.50,273.61 L298.50,273.61 L299.50,273.61 L300.50,273.61 L301.50,273.61 L302.50,273.61 L303.50,273.61 L304.50,273.61 L305.50,273.61 L306.50,273.61 L307.50,273.61 L308.50,273.61 L309.50,273.61 L310.50,273.61 L311.50,273.61 L312.50,273.61 L313.50,273.61 L314.50,273.61 L315.50,273.61 L316.50,273.61 L317.50,273.61 L318.50,273.61 L319.50,273.61 L320.50,273.61 L321.50,273.61 L322.50,273.61 L323.50,273.61 L324.50,273.61 L325.50,273.61 L326.50,273.61 L327.50,273.61 L328.50,273.61 L329.50,273.61 L330.50,273.61 L331.50,273.61 L332.50,273.61 L333.50,273.61 L334.50,273.61 L335.50,273.61 L336.50,273.61 L337.50,273.61 L338.50,273.61 L339.50,273.61 L339.50,280.21 L338.50,280.21 L337.50,280.21 L336.50,280.21 L335.50,280.21 L334.50,280.21 L333.50,280.21 L332.50,280.21 L331.50,280.21 L330.50,280.21 L329.50,280.21 L328.50,280.21 L327.50,280.21 L326.50,280.21 L325.50,280.21 L324.50,280.21 L323.50,280.21 L322.50,280.21 L321.50,280.21 L320.50,280.21 L319.50,280.21 L318.50,280.21 L317.50,280.21 L316.50,280.21 L315.50,280.21 L314.50,280.21 L313.50,280.21 L312.50,280.21 L311.50,280.21 L310.50,280.21 L309.50,280.21 L308.50,280.21 L307.50,280.21 L306.50,280.21 L305.50,280.21 L304.50,280.21 L303.50,280.21 L302.50,280.21 L301.50,280.21 L300.50,280.21 L299.50,280.21 L298.50,280.21 L297.50,280.21 L296.50,280.21 L295.50,280.21 L294.50,280.21 L293.50,280.21 L292.50,280.21 L291.50,280.21 L290.50,280.21 L289.50,280.21 L288.50,280.21 L287.50,280.21 L286.50,280.21 L285.50,280.21 L284.50,280.21 L283.50,280.21 L282.50,280.21 L281.50,280.21 L280.50,280.21 L279.50,280.21 L278.50,280.21 L277.50,280.21 L276.50,280.21 L275.50,280.21 L274.50,280.21 L273.50,280.21 L272.50,280.21 L271.50,280.21 L270.50,280.21 L269.50,280.21 L268.50,280.21 L267.50,280.21 L266.50,280.21 L265.50,280.21 L264.50,280.21 L263.50,280.21 L262.50,280.21 L261.50,280.21 L260.50,280.21 L259.50,280.21 L258.50,280.21 L257.50,280.21 L256.50,280.21 L255.50,280.20 L254.50,280.20 L253.50,280.20 L252.50,280.20 L251.50,280.20 L250.50,280.20 L249.50,280.20 L248.50,280.20 L247.50,280.20 L246.50,280.20 L245.50,280.20 L244.50,280.20 L243.50,280.20 L242.50,280.20 L241.50,280.20 L240.50,280.19 L239.50,280.19 L238.50,280.19 L237.50,280.19 L236.50,280.19 L235.50,280.19 L234.50,280.19 L233.50,280.19 L232.50,280.19 L231.50,280.18 L230.50,280.18 L229.50,280.18 L228.50,280.18 L227.50,280.18 L226.50,280.17 L225.50,280.17 L224.50,280.17 L223.50,280.17 L222.50,280.17 L221.50,280.16 L220.50,280.16 L219.50,280.16 L218.50,280.15 L217.50,280.15 L216.50,280.15 L215.50,280.14 L214.50,280.14 L213.50,280.14 L212.50,280.13 L211.50,280.13 L210.50,280.12 L209.50,280.12 L208.50,280.11 L207.50,280.11 L206.50,280.10 L205.50,280.09 L204.50,280.09 L203.50,280.08 L202.50,280.07 L201.50,280.06 L200.50,280.06 L199.50,280.05 L198.50,280.04 L197.50,280.03 L196.50,280.02 L195.50,280.01 L194.50,280.00 L193.50,279.98 L192.50,279.97 L191.50,279.96 L190.50,279.94 L189.50,279.93 L188.50,279.91 L187.50,279.90 L186.50,279.88 L185.50,279.86 L184.50,279.85 L183.50,279.83 L182.50,279.80 L181.50,279.78 L180.50,279.76 L179.50,279.74 L178.50,279.71 L177.50,279.68 L176.50,279.66 L175.50,279.63 L174.50,279.60 L173.50,279.56 L172.50,279.53 L171.50,279.50 L170.50,279.46 L169.50,279.42 L168.50,279.38 L167.50,279.34 L166.50,279.30 L165.50,279.25 L164.50,279.20 L163.50,279.15 L162.50,279.10 L161.50,279.05 L160.50,278.99 L159.50,278.93 L158.50,278.87 L157.50,278.81 L156.50,278.74 L155.50,278.67 L154.50,278.60 L153.50,278.53 L152.50,278.46 L151.50,278.38 L150.50,278.30 L149.50,278.21 L148.50,278.13 L147.50,278.04 L146.50,277.95 L145.50,277.85 L144.50,277.75 L143.50,277.65 L142.50,277.55 L141.50,277.44 L140.50,277.34 L139.50,277.22 L138.50,277.11 L137.50,276.99 L136.50,276.87 L135.50,276.75 L134.50,276.63 L133.50,276.50 L132.50,276.37 L131.50,276.24 L130.50,276.10 L129.50,275.96 L128.50,275.82 L127.50,275.68 L126.50,275.54 L125.50,275.39 L124.50,275.24 L123.50,275.09 L122.50,274.94 L121.50,274.78 L120.50,274.62 L119.50,274.47 L118.50,274.30 L117.50,274.14 L116.50,273.98 L115.50,273.81 L114.50,273.64 L113.50,273.47 L112.50,273.30 L111.50,273.13 L110.50,272.96 L109.50,272.78 L108.50,272.61 L107.50,272.43 L106.50,272.25 L105.50,272.07 L104.50,271.89 L103.50,271.71 L102.50,271.52 L101.50,271.34 L100.50,271.16 L99.50,270.97 L98.50,270.78 L97.50,270.60 L96.50,270.41 L95.50,270.22 L94.50,270.03 L93.50,269.84 L92.50,269.65 L91.50,269.46 L90.50,269.27 L89.50,269.07 L88.50,268.88 L87.50,268.69 L86.50,268.49 L85.50,268.30 L84.50,268.10 L83.50,267.91 L82.50,267.71 L81.50,267.52 L80.50,267.32 L79.50,267.12 L78.50,266.93 L77.50,266.73 L76.50,266.53 L75.50,266.33 L74.50,266.14 L73.50,265.94 L72.50,265.74 L71.50,265.54 L70.50,265.34 L69.50,265.14 L68.50,264.94 L67.50,264.74 L66.50,264.55 L65.50,264.35 L64.50,264.15 L63.50,263.95 L62.50,263.75 L61.50,263.55 L60.50,263.35 L59.50,263.14 L58.50,262.94 L57.50,262.74 L56.50,262.54 L55.50,262.34 L54.50,262.14 L53.50,261.94 L52.50,261.74 L51.50,261.54 L50.50,261.34 L49.50,261.13 L48.50,260.93 L47.50,260.73 L46.50,260.53 L45.50,260.33 L44.50,260.13 L43.50,259.93 L42.50,259.72 L41.50,259.52 L40.50,259.32 Z" fill="#dfe8ff" fill-opacity="0.9" stroke="none"/>
<path d="M40.50,258.15 L41.50,258.90 L42.50,259.65 L43.50,260.39 L44.50,261.13 L45.50,261.87 L46.50,262.60 L47.50,263.33 L48.50,264.05 L49.50,264.77 L50.50,265.48 L51.50,266.19 L52.50,266.89 L53.50,267.59 L54.50,268.28 L55.50,268.96 L56.50,269.64 L57.50,270.31 L58.50,270.97 L59.50,271.63 L60.50,272.27 L61.50,272.91 L62.50,273.55 L63.50,274.17 L64.50,274.79 L65.50,275.39 L66.50,275.99 L67.50,276.58 L68.50,277.16 L69.50,277.73 L70.50,278.29 L71.50,278.84 L72.50,279.37 L73.50,279.90 L74.50,280.42 L75.50,280.93 L76.50,281.42 L77.50,281.91 L78.50,282.38 L79.50,282.84 L80.50,283.29 L81.50,283.73 L82.50,284.16 L83.50,284.58 L84.50,284.98 L85.50,285.37 L86.50,285.75 L87.50,286.12 L88.50,286.48 L89.50,286.83 L90.50,287.16 L91.50,287.49 L92.50,287.80 L93.50,288.10 L94.50,288.39 L95.50,288.68 L96.50,288.95 L97.50,289.21 L98.50,289.46 L99.50,289.70 L100.50,289.93 L101.50,290.15 L102.50,290.37 L103.50,290.57 L104.50,290.77 L105.50,290.95 L106.50,291.13 L107.50,291.30 L108.50,291.47 L109.50,291.63 L110.50,291.78 L111.50,291.92 L112.50,292.05 L113.50,292.18 L114.50,292.31 L115.50,292.43 L116.50,292.54 L117.50,292.65 L118.50,292.75 L119.50,292.85 L120.50,292.94 L121.50,293.03 L122.50,293.11 L123.50,293.19 L124.50,293.26 L125.50,293.33 L126.50,293.40 L127.50,293.47 L128.50,293.53 L129.50,293.59 L130.50,293.64 L131.50,293.69 L132.50,293.74 L133.50,293.79 L134.50,293.84 L135.50,293.88 L136.50,293.92 L137.50,293.96 L138.50,293.99 L139.50,294.03 L140.50,294.06 L141.50,294.09 L142.50,294.12 L143.50,294.14 L144.50,294.17 L145.50,294.19 L146.50,294.22 L147.50,294.24 L148.50,294.26 L149.50,294.28 L150.50,294.30 L151.50,294.32 L152.50,294.33 L153.50,294.35 L154.50,294.36 L155.50,294.38 L156.50,294.39 L157.50,294.40 L158.50,294.42 L159.50,294.43 L160.50,294.44 L161.50,294.45 L162.50,294.46 L163.50,294.47 L164.50,294.48 L165.50,294.48 L166.50,294.49 L167.50,294.50 L168.50,294.51 L169.50,294.51 L170.50,294.52 L171.50,294.52 L172.50,294.53 L173.50,294.53 L174.50,294.54 L175.50,294.54 L176.50,294.55 L177.50,294.55 L178.50,294.56 L179.50,294.56 L180.50,294.56 L181.50,294.57 L182.50,294.57 L183.50,294.57 L184.50,294.58 L185.50,294.58 L186.50,294.58 L187.50,294.58 L188.50,294.58 L189.50,294.59 L190.50,294.59 L191.50,294.59 L192.50,294.59 L193.50,294.59 L194.50,294.60 L195.50,294.60 L196.50,294.60 L197.50,294.60 L198.50,294.60 L199.50,294.60 L200.50,294.60 L201.50,294.60 L202.50,294.61 L203.50,294.61 L204.50,294.61 L205.50,294.61 L206.50,294.61 L207.50,294.61 L208.50,294.61 L209.50,294.61 L210.50,294.61 L211.50,294.61 L212.50,294.61 L213.50,294.61 L214.50,294.61 L215.50,294.61 L216.50,294.61 L217.50,294.62 L218.50,294.62 L219.50,294.62 L220.50,294.62 L221.50,294.62 L222.50,294.62 L223.50,294.62 L224.50,294.62 L225.50,294.62 L226.50,294.62 L227.50,294.62 L228.50,294.62 L229.50,294.62 L230.50,294.62 L231.50,294.62 L232.50,294.62 L233.50,294.62 L234.50,294.62 L235.50,294.62 L236.50,294.62 L237.50,294.62 L238.50,294.62 L239.50,294.62 L240.50,294.62 L241.50,294.62 L242.50,294.62 L243.50,294.62 L244.50,294.62 L245.50,294.62 L246.50,294.62 L247.50,294.62 L248.50,294.62 L249.50,294.62 L250.50,294.62 L251.50,294.62 L252.50,294.62 L253.50,294.62 L254.50,294.62 L255.50,294.62 L256.50,294.62 L257.50,294.62 L258.50,294.62 L259.50,294.62 L260.50,294.62 L261.50,294.62 L262.50,294.62 L263.50,294.62 L264.50,294.62 L265.50,294.62 L266.50,294.62 L267.50,294.62 L268.50,294.62 L269.50,294.62 L270.50,294.62 L271.50,294.62 L272.50,294.62 L273.50,294.62 L274.50,294.62 L275.50,294.62 L276.50,294.62 L277.50,294.62 L278.50,294.62 L279.50,294.62 L280.50,294.62 L281.50,294.62 L282.50,294.62 L283.50,294.62 L284.50,294.62 L285.50,294.62 L286.50,294.62 L287.50,294.62 L288.50,294.62 L289.50,294.62 L290.50,294.62 L291.50,294.62 L292.50,294.62 L293.50,294.62 L294.50,294.62 L295.50,294.62 L296.50,294.62 L297.50,294.62 L298.50,294.62 L299.50,294.62 L300.50,294.62 L301.50,294.62 L302.50,294.62 L303.50,294.62 L304.50,294.62 L305.50,294.62 L306.50,294.62 L307.50,294.62 L308.50,294.62 L309.50,294.62 L310.50,294.62 L311.50,294.62 L312.50,294.62 L313.50,294.62 L314.50,294.62 L315.50,294.62 L316.50,294.62 L317.50,294.62 L318.50,294.62 L319.50,294.62 L320.50,294.62 L321.50,294.62 L322.50,294.62 L323.50,294.62 L324.50,294.62 L325.50,294.62 L326.50,294.62 L327.50,294.62 L328.50,294.62 L329.50,294.62 L330.50,294.62 L331.50,294.62 L332.50,294.62 L333.50,294.62 L334.50,294.62 L335.50,294.62 L336.50,294.62 L337.50,294.62 L338.50,294.62 L339.50,294.62" stroke="#b00000" stroke-width="1.15"/>
<path d="M40.50,256.02 L41.50,256.22 L42.50,256.42 L43.50,256.63 L44.50,256.83 L45.50,257.03 L46.50,257.23 L47.50,257.43 L48.50,257.63 L49.50,257.83 L50.50,258.04 L51.50,258.24 L52.50,258.44 L53.50,258.64 L54.50,258.84 L55.50,259.04 L56.50,259.24 L57.50,259.44 L58.50,259.64 L59.50,259.84 L60.50,260.05 L61.50,260.25 L62.50,260.45 L63.50,260.65 L64.50,260.85 L65.50,261.05 L66.50,261.25 L67.50,261.44 L68.50,261.64 L69.50,261.84 L70.50,262.04 L71.50,262.24 L72.50,262.44 L73.50,262.64 L74.50,262.84 L75.50,263.03 L76.50,263.23 L77.50,263.43 L78.50,263.63 L79.50,263.82 L80.50,264.02 L81.50,264.22 L82.50,264.41 L83.50,264.61 L84.50,264.80 L85.50,265.00 L86.50,265.19 L87.50,265.39 L88.50,265.58 L89.50,265.77 L90.50,265.97 L91.50,266.16 L92.50,266.35 L93.50,266.54 L94.50,266.73 L95.50,266.92 L96.50,267.11 L97.50,267.30 L98.50,267.48 L99.50,267.67 L100.50,267.86 L101.50,268.04 L102.50,268.22 L103.50,268.41 L104.50,268.59 L105.50,268.77 L106.50,268.95 L107.50,269.13 L108.50,269.31 L109.50,269.48 L110.50,269.66 L111.50,269.83 L112.50,270.00 L113.50,270.17 L114.50,270.34 L115.50,270.51 L116.50,270.68 L117.50,270.84 L118.50,271.00 L119.50,271.17 L120.50,271.32 L121.50,271.48 L122.50,271.64 L123.50,271.79 L124.50,271.94 L125.50,272.09 L126.50,272.24 L127.50,272.38 L128.50,272.52 L129.50,272.66 L130.50,272.80 L131.50,272.94 L132.50,273.07 L133.50,273.20 L134.50,273.33 L135.50,273.45 L136.50,273.57 L137.50,273.69 L138.50,273.81 L139.50,273.92 L140.50,274.04 L141.50,274.14 L142.50,274.25 L143.50,274.35 L144.50,274.45 L145.50,274.55 L146.50,274.65 L147.50,274.74 L148.50,274.83 L149.50,274.91 L150.50,275.00 L151.50,275.08 L152.50,275.16 L153.50,275.23 L154.50,275.30 L155.50,275.37 L156.50,275.44 L157.50,275.51 L158.50,275.57 L159.50,275.63 L160.50,275.69 L161.50,275.75 L162.50,275.80 L163.50,275.85 L164.50,275.90 L165.50,275.95 L166.50,276.00 L167.50,276.04 L168.50,276.08 L169.50,276.12 L170.50,276.16 L171.50,276.20 L172.50,276.23 L173.50,276.26 L174.50,276.30 L175.50,276.33 L176.50,276.36 L177.50,276.38 L178.50,276.41 L179.50,276.44 L180.50,276.46 L181.50,276.48 L182.50,276.50 L183.50,276.53 L184.50,276.55 L185.50,276.56 L186.50,276.58 L187.50,276.60 L188.50,276.61 L189.50,276.63 L190.50,276.64 L191.50,276.66 L192.50,276.67 L193.50,276.68 L194.50,276.70 L195.50,276.71 L196.50,276.72 L197.50,276.73 L198.50,276.74 L199.50,276.75 L200.50,276.76 L201.50,276.76 L202.50,276.77 L203.50,276.78 L204.50,276.79 L205.50,276.79 L206.50,276.80 L207.50,276.81 L208.50,276.81 L209.50,276.82 L210.50,276.82 L211.50,276.83 L212.50,276.83 L213.50,276.84 L214.50,276.84 L215.50,276.84 L216.50,276.85 L217.50,276.85 L218.50,276.85 L219.50,276.86 L220.50,276.86 L221.50,276.86 L222.50,276.87 L223.50,276.87 L224.50,276.87 L225.50,276.87 L226.50,276.87 L227.50,276.88 L228.50,276.88 L229.50,276.88 L230.50,276.88 L231.50,276.88 L232.50,276.89 L233.50,276.89 L234.50,276.89 L235.50,276.89 L236.50,276.89 L237.50,276.89 L238.50,276.89 L239.50,276.89 L240.50,276.89 L241.50,276.90 L242.50,276.90 L243.50,276.90 L244.50,276.90 L245.50,276.90 L246.50,276.90 L247.50,276.90 L248.50,276.90 L249.50,276.90 L250.50,276.90 L251.50,276.90 L252.50,276.90 L253.50,276.90 L254.50,276.90 L255.50,276.90 L256.50,276.91 L257.50,276.91 L258.50,276.91 L259.50,276.91 L260.50,276.91 L261.50,276.91 L262.50,276.91 L263.50,276.91 L264.50,276.91 L265.50,276.91 L266.50,276.91 L267.50,276.91 L268.50,276.91 L269.50,276.91 L270.50,276.91 L271.50,276.91 L272.50,276.91 L273.50,276.91 L274.50,276.91 L275.50,276.91 L276.50,276.91 L277.50,276.91 L278.50,276.91 L279.50,276.91 L280.50,276.91 L281.50,276.91 L282.50,276.91 L283.50,276.91 L284.50,276.91 L285.50,276.91 L286.50,276.91 L287.50,276.91 L288.50,276.91 L289.50,276.91 L290.50,276.91 L291.50,276.91 L292.50,276.91 L293.50,276.91 L294.50,276.91 L295.50,276.91 L296.50,276.91 L297.50,276.91 L298.50,276.91 L299.50,276.91 L300.50,276.91 L301.50,276.91 L302.50,276.91 L303.50,276.91 L304.50,276.91 L305.50,276.91 L306.50,276.91 L307.50,276.91 L308.50,276.91 L309.50,276.91 L310.50,276.91 L311.50,276.91 L312.50,276.91 L313.50,276.91 L314.50,276.91 L315.50,276.91 L316.50,276.91 L317.50,276.91 L318.50,276.91 L319.50,276.91 L320.50,276.91 L321.50,276.91 L322.50,276.91 L323.50,276.91 L324.50,276.91 L325.50,276.91 L326.50,276.91 L327.50,276.91 L328.50,276.91 L329.50,276.91 L330.50,276.91 L331.50,276.91 L332.50,276.91 L333.50,276.91 L334.50,276.91 L335.50,276.91 L336.50,276.91 L337.50,276.91 L338.50,276.91 L339.50,276.91" stroke="#0000b2" stroke-width="1.15"/>
<path d="M40.50,268.63 L41.50,268.65 L42.50,268.67 L43.50,268.70 L44.50,268.72 L45.50,268.74 L46.50,268.76 L47.50,268.79 L48.50,268.81 L49.50,268.83 L50.50,268.85 L51.50,268.87 L52.50,268.90 L53.50,268.92 L54.50,268.94 L55.50,268.96 L56.50,268.99 L57.50,269.01 L58.50,269.03 L59.50,269.05 L60.50,269.07 L61.50,269.10 L62.50,269.12 L63.50,269.14 L64.50,269.16 L65.50,269.19 L66.50,269.21 L67.50,269.23 L68.50,269.25 L69.50,269.27 L70.50,269.30 L71.50,269.32 L72.50,269.34 L73.50,269.36 L74.50,269.39 L75.50,269.41 L76.50,269.43 L77.50,269.45 L78.50,269.47 L79.50,269.50 L80.50,269.52 L81.50,269.54 L82.50,269.56 L83.50,269.59 L84.50,269.61 L85.50,269.63 L86.50,269.65 L87.50,269.67 L88.50,269.70 L89.50,269.72 L90.50,269.74 L91.50,269.76 L92.50,269.79 L93.50,269.81 L94.50,269.83 L95.50,269.85 L96.50,269.88 L97.50,269.90 L98.50,269.92 L99.50,269.94 L100.50,269.96 L101.50,269.99 L102.50,270.01 L103.50,270.03 L104.50,270.05 L105.50,270.08 L106.50,270.10 L107.50,270.12 L108.50,270.14 L109.50,270.16 L110.50,270.19 L111.50,270.21 L112.50,270.23 L113.50,270.25 L114.50,270.28 L115.50,270.30 L116.50,270.32 L117.50,270.34 L118.50,270.36 L119.50,270.39 L120.50,270.41 L121.50,270.43 L122.50,270.45 L123.50,270.48 L124.50,270.50 L125.50,270.52 L126.50,270.54 L127.50,270.56 L128.50,270.59 L129.50,270.61 L130.50,270.63 L131.50,270.65 L132.50,270.68 L133.50,270.70 L134.50,270.72 L135.50,270.74 L136.50,270.76 L137.50,270.79 L138.50,270.81 L139.50,270.83 L140.50,270.85 L141.50,270.88 L142.50,270.90 L143.50,270.92 L144.50,270.94 L145.50,270.96 L146.50,270.99 L147.50,271.01 L148.50,271.03 L149.50,271.05 L150.50,271.08 L151.50,271.10 L152.50,271.12 L153.50,271.14 L154.50,271.16 L155.50,271.19 L156.50,271.21 L157.50,271.23 L158.50,271.25 L159.50,271.27 L160.50,271.30 L161.50,271.32 L162.50,271.34 L163.50,271.36 L164.50,271.39 L165.50,271.41 L166.50,271.43 L167.50,271.45 L168.50,271.47 L169.50,271.50 L170.50,271.52 L171.50,271.54 L172.50,271.56 L173.50,271.58 L174.50,271.61 L175.50,271.63 L176.50,271.65 L177.50,271.67 L178.50,271.69 L179.50,271.72 L180.50,271.74 L181.50,271.76 L182.50,271.78 L183.50,271.80 L184.50,271.82 L185.50,271.85 L186.50,271.87 L187.50,271.89 L188.50,271.91 L189.50,271.93 L190.50,271.95 L191.50,271.98 L192.50,272.00 L193.50,272.02 L194.50,272.04 L195.50,272.06 L196.50,272.08 L197.50,272.10 L198.50,272.12 L199.50,272.14 L200.50,272.17 L201.50,272.19 L202.50,272.21 L203.50,272.23 L204.50,272.25 L205.50,272.27 L206.50,272.29 L207.50,272.31 L208.50,272.33 L209.50,272.35 L210.50,272.37 L211.50,272.39 L212.50,272.41 L213.50,272.43 L214.50,272.45 L215.50,272.46 L216.50,272.48 L217.50,272.50 L218.50,272.52 L219.50,272.54 L220.50,272.56 L221.50,272.57 L222.50,272.59 L223.50,272.61 L224.50,272.62 L225.50,272.64 L226.50,272.66 L227.50,272.67 L228.50,272.69 L229.50,272.70 L230.50,272.72 L231.50,272.73 L232.50,272.75 L233.50,272.76 L234.50,272.78 L235.50,272.79 L236.50,272.80 L237.50,272.82 L238.50,272.83 L239.50,272.84 L240.50,272.85 L241.50,272.86 L242.50,272.87 L243.50,272.88 L244.50,272.89 L245.50,272.90 L246.50,272.91 L247.50,272.92 L248.50,272.93 L249.50,272.94 L250.50,272.95 L251.50,272.96 L252.50,272.96 L253.50,272.97 L254.50,272.98 L255.50,272.98 L256.50,272.99 L257.50,273.00 L258.50,273.00 L259.50,273.01 L260.50,273.01 L261.50,273.02 L262.50,273.02 L263.50,273.03 L264.50,273.03 L265.50,273.03 L266.50,273.04 L267.50,273.04 L268.50,273.05 L269.50,273.05 L270.50,273.05 L271.50,273.05 L272.50,273.06 L273.50,273.06 L274.50,273.06 L275.50,273.06 L276.50,273.07 L277.50,273.07 L278.50,273.07 L279.50,273.07 L280.50,273.07 L281.50,273.08 L282.50,273.08 L283.50,273.08 L284.50,273.08 L285.50,273.08 L286.50,273.08 L287.50,273.08 L288.50,273.08 L289.50,273.08 L290.50,273.09 L291.50,273.09 L292.50,273.09 L293.50,273.09 L294.50,273.09 L295.50,273.09 L296.50,273.09 L297.50,273.09 L298.50,273.09 L299.50,273.09 L300.50,273.09 L301.50,273.09 L302.50,273.09 L303.50,273.09 L304.50,273.09 L305.50,273.09 L306.50,273.09 L307.50,273.10 L308.50,273.10 L309.50,273.10 L310.50,273.10 L311.50,273.10 L312.50,273.10 L313.50,273.10 L314.50,273.10 L315.50,273.10 L316.50,273.10 L317.50,273.10 L318.50,273.10 L319.50,273.10 L320.50,273.10 L321.50,273.10 L322.50,273.10 L323.50,273.10 L324.50,273.10 L325.50,273.10 L326.50,273.10 L327.50,273.10 L328.50,273.10 L329.50,273.10 L330.50,273.10 L331.50,273.10 L332.50,273.10 L333.50,273.10 L334.50,273.10 L335.50,273.10 L336.50,273.10 L337.50,273.10 L338.50,273.10 L339.50,273.10" stroke="#00aa08" stroke-width="1.15"/>
</g>
<path d="M40.50,315.4 v-2.6 M40.50,240.5 v2.6 M70.56,315.4 v-1.5 M70.56,240.5 v1.5 M88.15,315.4 v-1.5 M88.15,240.5 v1.5 M100.63,315.4 v-1.5 M100.63,240.5 v1.5 M110.30,315.4 v-2.6 M110.30,240.5 v2.6 M118.21,315.4 v-1.5 M118.21,240.5 v1.5 M124.90,315.4 v-1.5 M124.90,240.5 v1.5 M130.69,315.4 v-1.5 M130.69,240.5 v1.5 M135.80,315.4 v-1.5 M135.80,240.5 v1.5 M140.37,315.4 v-2.6 M140.37,240.5 v2.6 M170.43,315.4 v-1.5 M170.43,240.5 v1.5 M188.02,315.4 v-1.5 M188.02,240.5 v1.5 M200.49,315.4 v-1.5 M200.49,240.5 v1.5 M210.17,315.4 v-2.6 M210.17,240.5 v2.6 M218.08,315.4 v-1.5 M218.08,240.5 v1.5 M224.76,315.4 v-1.5 M224.76,240.5 v1.5 M230.56,315.4 v-1.5 M230.56,240.5 v1.5 M235.66,315.4 v-1.5 M235.66,240.5 v1.5 M240.23,315.4 v-2.6 M240.23,240.5 v2.6 M270.30,315.4 v-1.5 M270.30,240.5 v1.5 M287.88,315.4 v-1.5 M287.88,240.5 v1.5 M300.36,315.4 v-1.5 M300.36,240.5 v1.5 M310.04,315.4 v-2.6 M310.04,240.5 v2.6 M317.94,315.4 v-1.5 M317.94,240.5 v1.5 M324.63,315.4 v-1.5 M324.63,240.5 v1.5 M330.42,315.4 v-1.5 M330.42,240.5 v1.5 M335.53,315.4 v-1.5 M335.53,240.5 v1.5 M40.5,315.40 h2.6 M340.1,315.40 h-2.6 M40.5,313.26 h1.4 M340.1,313.26 h-1.4 M40.5,311.12 h1.4 M340.1,311.12 h-1.4 M40.5,308.98 h1.4 M340.1,308.98 h-1.4 M40.5,306.84 h1.4 M340.1,306.84 h-1.4 M40.5,304.70 h2.6 M340.1,304.70 h-2.6 M40.5,302.56 h1.4 M340.1,302.56 h-1.4 M40.5,300.42 h1.4 M340.1,300.42 h-1.4 M40.5,298.28 h1.4 M340.1,298.28 h-1.4 M40.5,296.14 h1.4 M340.1,296.14 h-1.4 M40.5,294.00 h2.6 M340.1,294.00 h-2.6 M40.5,291.86 h1.4 M340.1,291.86 h-1.4 M40.5,289.72 h1.4 M340.1,289.72 h-1.4 M40.5,287.58 h1.4 M340.1,287.58 h-1.4 M40.5,285.44 h1.4 M340.1,285.44 h-1.4 M40.5,283.30 h2.6 M340.1,283.30 h-2.6 M40.5,281.16 h1.4 M340.1,281.16 h-1.4 M40.5,279.02 h1.4 M340.1,279.02 h-1.4 M40.5,276.88 h1.4 M340.1,276.88 h-1.4 M40.5,274.74 h1.4 M340.1,274.74 h-1.4 M40.5,272.60 h2.6 M340.1,272.60 h-2.6 M40.5,270.46 h1.4 M340.1,270.46 h-1.4 M40.5,268.32 h1.4 M340.1,268.32 h-1.4 M40.5,266.18 h1.4 M340.1,266.18 h-1.4 M40.5,264.04 h1.4 M340.1,264.04 h-1.4 M40.5,261.90 h2.6 M340.1,261.90 h-2.6 M40.5,259.76 h1.4 M340.1,259.76 h-1.4 M40.5,257.62 h1.4 M340.1,257.62 h-1.4 M40.5,255.48 h1.4 M340.1,255.48 h-1.4 M40.5,253.34 h1.4 M340.1,253.34 h-1.4 M40.5,251.20 h2.6 M340.1,251.20 h-2.6 M40.5,249.06 h1.4 M340.1,249.06 h-1.4 M40.5,246.92 h1.4 M340.1,246.92 h-1.4 M40.5,244.78 h1.4 M340.1,244.78 h-1.4 M40.5,242.64 h1.4 M340.1,242.64 h-1.4 M40.5,240.50 h2.6 M340.1,240.50 h-2.6" stroke="#b0b0b0" stroke-width="0.6" fill="none"/>
<rect x="40.5" y="240.5" width="299.6" height="74.89999999999998" fill="none" stroke="#949494" stroke-width="0.75"/>
<text x="38.6" y="320.50" text-anchor="end">0.80</text>
<text x="38.6" y="309.80" text-anchor="end">0.85</text>
<text x="38.6" y="299.10" text-anchor="end">0.90</text>
<text x="38.6" y="288.40" text-anchor="end">0.95</text>
<text x="38.6" y="277.70" text-anchor="end">1.00</text>
<text x="38.6" y="267.00" text-anchor="end">1.05</text>
<text x="38.6" y="256.30" text-anchor="end">1.10</text>
<text x="38.6" y="245.60" text-anchor="end">1.15</text>
<text x="40.50" y="329.7" text-anchor="middle">1</text>
<text x="110.30" y="329.7" text-anchor="middle">5</text>
<text x="140.37" y="329.7" text-anchor="middle">10</text>
<text x="210.17" y="329.7" text-anchor="middle">50</text>
<text x="240.23" y="329.7" text-anchor="middle">100</text>
<text x="310.04" y="329.7" text-anchor="middle">500</text>
<text x="340.10" y="329.7" text-anchor="middle">1000</text>
<text transform="translate(12.6,312.6) rotate(-90)" textLength="71.6" lengthAdjust="spacingAndGlyphs">(LO+NLO)/LO</text>
</svg>
</body></html>
